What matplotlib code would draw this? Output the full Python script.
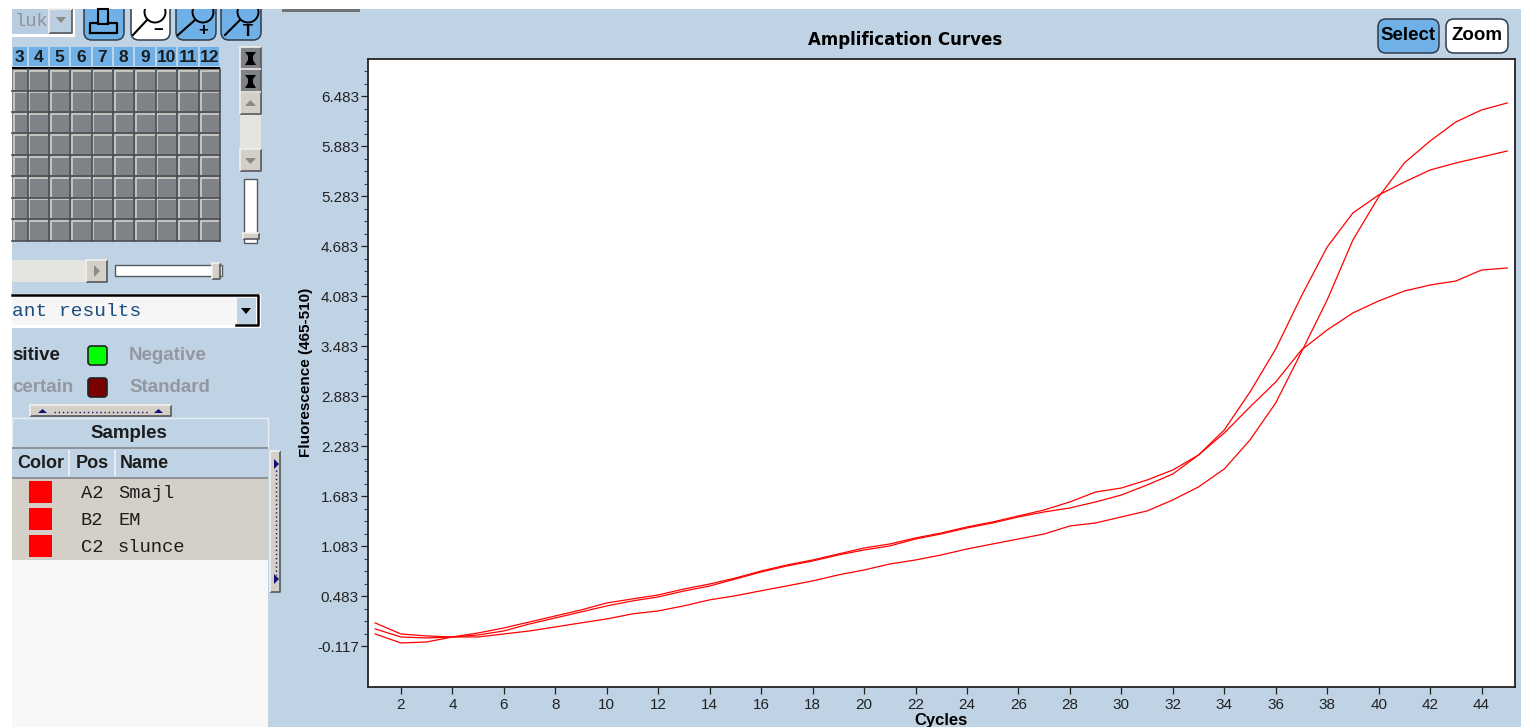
import matplotlib
matplotlib.use('Agg')
import matplotlib.pyplot as plt
from matplotlib.patches import Rectangle, FancyBboxPatch, Polygon, Circle

# curves, one value per cycle
cycles = list(range(1, 46))
smajl = [0.033, -0.075, -0.063, -0.003, -0.003, 0.033, 0.069, 0.117, 0.166, 0.213,
         0.274, 0.309, 0.370, 0.442, 0.491, 0.551, 0.609, 0.669, 0.741, 0.800,
         0.872, 0.920, 0.980, 1.052, 1.112, 1.172, 1.232, 1.328, 1.364, 1.436,
         1.508, 1.640, 1.796, 2.011, 2.359, 2.803, 3.414, 4.038, 4.757, 5.273,
         5.681, 5.944, 6.172, 6.316, 6.400]
em = [0.165, 0.033, 0.009, -0.003, 0.045, 0.105, 0.177, 0.249, 0.321, 0.405,
      0.453, 0.501, 0.572, 0.632, 0.704, 0.788, 0.860, 0.920, 0.992, 1.064,
      1.112, 1.184, 1.244, 1.316, 1.376, 1.448, 1.520, 1.616, 1.735, 1.783,
      1.879, 1.999, 2.179, 2.479, 2.934, 3.450, 4.085, 4.673, 5.081, 5.296,
      5.452, 5.596, 5.680, 5.752, 5.824]
slunce = [0.093, -0.003, -0.015, -0.003, 0.021, 0.069, 0.153, 0.225, 0.297, 0.369,
          0.429, 0.477, 0.548, 0.608, 0.692, 0.776, 0.848, 0.908, 0.980, 1.040,
          1.088, 1.172, 1.232, 1.304, 1.364, 1.436, 1.496, 1.544, 1.616, 1.699,
          1.819, 1.951, 2.179, 2.443, 2.755, 3.054, 3.438, 3.678, 3.882, 4.026,
          4.145, 4.217, 4.265, 4.397, 4.421]

y_ticks = [-0.117, 0.483, 1.083, 1.683, 2.283, 2.883, 3.483, 4.083, 4.683, 5.283, 5.883, 6.483]
y_labels = ['-0.117', '0.483', '1.083', '1.683', '2.283', '2.883', '3.483', '4.083', '4.683', '5.283', '5.883', '6.483']
x_ticks = list(range(2, 46, 2))
plate_cols = ['3', '4', '5', '6', '7', '8', '9', '10', '11', '12']
sample_pos = ['A2', 'B2', 'C2']
sample_names = ['Smajl', 'EM', 'slunce']

BG = '#bfd3e5'
BLUE = '#6fb1e6'
GREY = '#7f8287'
BEIGE = '#d4d0c8'
DARK = '#1c1c1c'
W, H = 1521, 727

plt.rcParams['font.family'] = ['Liberation Sans', 'DejaVu Sans']
fig = plt.figure(figsize=(W / 100, H / 100), dpi=100, facecolor='white')

# whole figure axes in screen pixels for the program's window around the plot
ui = fig.add_axes([0, 0, 1, 1])
ui.set_xlim(0, W)
ui.set_ylim(H, 0)
ui.axis('off')


def box(x0, y0, x1, y1, fc, ec='none', lw=0, z=1):
    ui.add_patch(Rectangle((x0, y0), x1 - x0, y1 - y0, facecolor=fc, edgecolor=ec, linewidth=lw, zorder=z))


def raised(x0, y0, x1, y1, fc=BEIGE):
    box(x0, y0, x1, y1, fc, z=2)
    ui.plot([x0, x1, x1], [y1, y1, y0], color='#55585c', lw=1.2, zorder=3, solid_capstyle='butt')
    ui.plot([x0, x0, x1], [y1, y0, y0], color='#f2f0ec', lw=1.2, zorder=3, solid_capstyle='butt')


def arrow(pts, color='#8a8a86'):
    ui.add_patch(Polygon(pts, closed=True, facecolor=color, edgecolor='none', zorder=4))


def pill(x0, y0, x1, y1, fc):
    ui.add_patch(FancyBboxPatch((x0 + 6, y0 + 6), x1 - x0 - 12, y1 - y0 - 12,
                                boxstyle='round,pad=6,rounding_size=8',
                                facecolor=fc, edgecolor='#2d3c4c', linewidth=1.1, zorder=2))


def label(x, y, s, size=13.5, weight='bold', color=DARK, ha='center', family=None, rot=0):
    # va center sits about 2 px high for these fonts
    ui.text(x, y + 2, s, fontsize=size, fontweight=weight, color=color, ha=ha, va='center',
            family=family, rotation=rot, zorder=5)


box(12, 9, W, H, BG, z=0)
box(282, 9, 360, 12, '#6f7276')
box(12, 560, 268, H, '#f7f7f7')

# drop down with operator name
box(12, 9, 75, 37, 'white')
box(12, 9, 71, 34, '#b9cde0')
raised(49, 9, 72, 33, '#bccfe1')
arrow([(56, 17), (66, 17), (61, 23)])
label(15, 19, 'luk', 13.5, 'normal', '#8f9398', 'left', 'Liberation Mono')

# toolbar buttons
for i, (x0, x1) in enumerate([(84, 124), (131, 170), (176, 216), (221, 261)]):
    pill(x0, -4, x1, 40, 'white' if i == 1 else BLUE)
box(70, 0, 270, 9, 'white', z=3)
box(98, 9, 108, 24, 'none', 'black', 1.5, 4)
ui.plot([90, 90, 98], [33, 23, 23], color='black', lw=1.6, zorder=4)
ui.plot([108, 117, 117, 90], [23, 23, 33, 33], color='black', lw=1.6, zorder=4)
for cx, hx, sign in [(155, 133, '\u2212'), (203, 178, '+'), (248, 225, 'T')]:
    ui.add_patch(Circle((cx, 12), 10.5, facecolor='none', edgecolor='black', linewidth=1.4, zorder=2.5))
    ui.plot([hx, cx - 8], [35, 20], color='black', lw=1.5, zorder=4)
    label(cx + 3 if cx == 155 else cx, 29, sign, 12, 'bold', 'black')

# plate grid
col_edges = [12, 27.7, 49, 70.3, 91.7, 113, 134.3, 155.7, 177, 199, 220]
row_edges = [69.3, 90.7, 112, 133.3, 155, 176.3, 197.7, 219, 240.7]
for i, name in enumerate(plate_cols):
    box(col_edges[i] + 1, 47, col_edges[i + 1] - 1, 66, BLUE)
    label((col_edges[i] + col_edges[i + 1]) / 2, 56, name, 12.5)
box(12, 66.5, 220, 69, 'black', z=3)
box(12, 69.3, 220, 240.7, GREY, z=2)
for j in range(8):
    for i in range(10):
        x0, x1 = col_edges[i] + 1.5, col_edges[i + 1]
        y0, y1 = row_edges[j] + 1.5, row_edges[j + 1]
        ui.plot([x0, x0, x1 - 1], [y1 - 1, y0, y0], color='#d8d6d0', lw=1.1, zorder=3, solid_capstyle='butt')
for x in col_edges[1:]:
    ui.plot([x, x], [69.3, 240.7], color='#4c4f53', lw=1.2, zorder=3.5)
for y in row_edges[1:]:
    ui.plot([12, 220], [y, y], color='#4c4f53', lw=1.2, zorder=3.5)

# scrollers beside the grid
raised(240, 47, 261, 69, GREY)
raised(240, 69, 261, 92, GREY)
arrow([(245, 52), (256, 52), (253, 56), (253, 60), (256, 65), (245, 65), (248, 60), (248, 56)], 'black')
arrow([(245, 75), (256, 75), (253, 79), (253, 83), (256, 88), (245, 88), (248, 83), (248, 79)], 'black')
raised(240, 92, 261, 114)
arrow([(245, 106), (256, 106), (250.5, 100)])
box(240, 114, 261, 149, '#e4e4e0')
raised(240, 149, 261, 171)
arrow([(245, 158), (256, 158), (250.5, 164)])
box(244, 179, 257, 243, 'white', '#55585c', 1.0, 2)
raised(243, 233, 259, 239)
box(12, 260, 86, 282, '#e4e4e0')
raised(86, 260, 107, 282)
arrow([(94, 265), (94, 277), (100, 271)])
box(115, 265, 222, 276, 'white', '#55585c', 1.0, 2)
raised(212, 263, 220, 279)

# result filter
box(12, 294, 261, 328, 'white')
box(12, 296, 256, 325, '#f6f6f6')
ui.plot([12, 258, 258, 236], [295, 295, 325, 325], color='black', lw=1.8, zorder=3)
box(237, 298, 256, 324, BG, z=2)
arrow([(241, 308), (251, 308), (246, 314)], 'black')
label(12, 309.5, 'ant results', 14, 'normal', '#1c4e80', 'left', 'Liberation Mono')

# legend of call types
label(12, 354, 'sitive', 13.5, 'bold', DARK, 'left')
label(12, 386, 'certain', 13.5, 'bold', '#93989e', 'left')
label(129, 354, 'Negative', 13.5, 'bold', '#93989e', 'left')
label(129, 386, 'Standard', 13.5, 'bold', '#93989e', 'left')
for y0, color in [(346, '#00ff00'), (378, '#7b0000')]:
    ui.add_patch(FancyBboxPatch((90, y0 + 2), 15, 15, boxstyle='round,pad=2,rounding_size=3',
                                facecolor=color, edgecolor='#222222', linewidth=1.2, zorder=2))
raised(30, 405, 171, 416)
arrow([(38, 413), (47, 413), (42.5, 409)], '#10107a')
arrow([(154, 413), (163, 413), (158.5, 409)], '#10107a')
ui.plot([54, 148], [412, 412], color='#10107a', lw=1, ls=(0, (1, 2)), zorder=4)

# sample table
box(12, 418, 268, 448, '#bfd3e5', '#e8edf2', 1.0, 1)
box(12, 447, 268, 449, '#8f9498', z=2)
box(12, 449, 268, 477, BG)
box(12, 477, 268, 479, '#8f9498', z=2)
box(12, 479, 268, 560, BEIGE)
box(68, 450, 70, 476, '#e8edf2', z=2)
box(114, 450, 116, 476, '#e8edf2', z=2)
label(129, 432, 'Samples')
label(41, 462, 'Color', 13)
label(92, 462, 'Pos', 13)
label(120, 462, 'Name', 13, ha='left')
for i, y0 in enumerate([492, 519, 546]):
    box(29, y0 - 11, 52, y0 + 11, '#ff0000', z=2)
    label(92, y0 - 0.5, sample_pos[i], 13.5, 'normal', DARK, 'center', 'Liberation Mono')
    label(118, y0 - 0.5, sample_names[i], 13.5, 'normal', DARK, 'left', 'Liberation Mono')
raised(270, 451, 280, 592)
ui.plot([275.5, 275.5], [470, 575], color='#10107a', lw=1, ls=(0, (1, 2)), zorder=4)
arrow([(274, 459), (274, 469), (279, 464)], '#10107a')
arrow([(274, 574), (274, 584), (279, 579)], '#10107a')

# buttons and title above the plot
pill(1378, 19, 1439, 53, BLUE)
pill(1446, 19, 1508, 53, 'white')
label(1408.5, 34, 'Select', 13.5, 'bold', 'black')
label(1477, 34, 'Zoom', 13.5, 'bold', 'black')
ui.text(905, 40, 'Amplification Curves', fontsize=12, fontweight='bold', family='DejaVu Sans',
        color='black', ha='center', va='center', zorder=5)

# the actual plot
left, right, top, bottom = 368, 1515, 59, 687
ax = fig.add_axes([left / W, 1 - bottom / H, (right - left) / W, (bottom - top) / H])
ax.plot(cycles, smajl, color='#ff0000', lw=0.9)
ax.plot(cycles, em, color='#ff0000', lw=0.9)
ax.plot(cycles, slunce, color='#ff0000', lw=0.9)
ax.set_xlim(0.72, 45.3)
ax.set_ylim(-0.603, 6.927)
ax.set_xticks(x_ticks)
ax.set_yticks(y_ticks)
ax.set_yticklabels(y_labels)
ax.set_yticks([t + k * 0.15 for t in y_ticks for k in (1, 2, 3) if t + k * 0.15 < 6.9], minor=True)
ax.tick_params(axis='both', which='major', length=5, width=0.9, labelsize=11, colors='#222222', pad=3)
ax.tick_params(axis='y', which='major', pad=1.5)
ax.tick_params(axis='y', which='minor', length=3, width=0.8, color='#444444')
for s in ax.spines.values():
    s.set_linewidth(1.3)
    s.set_color('#222222')

fig.text(306 / W, 1 - 372 / H, 'Fluorescence (465-510)', rotation=90, fontsize=11, fontweight='bold',
         color='black', ha='center', va='center')
fig.text(941 / W, 1 - 721 / H, 'Cycles', fontsize=12, fontweight='bold', color='black', ha='center', va='center')

fig.savefig('out.png', dpi=100, facecolor='white')
